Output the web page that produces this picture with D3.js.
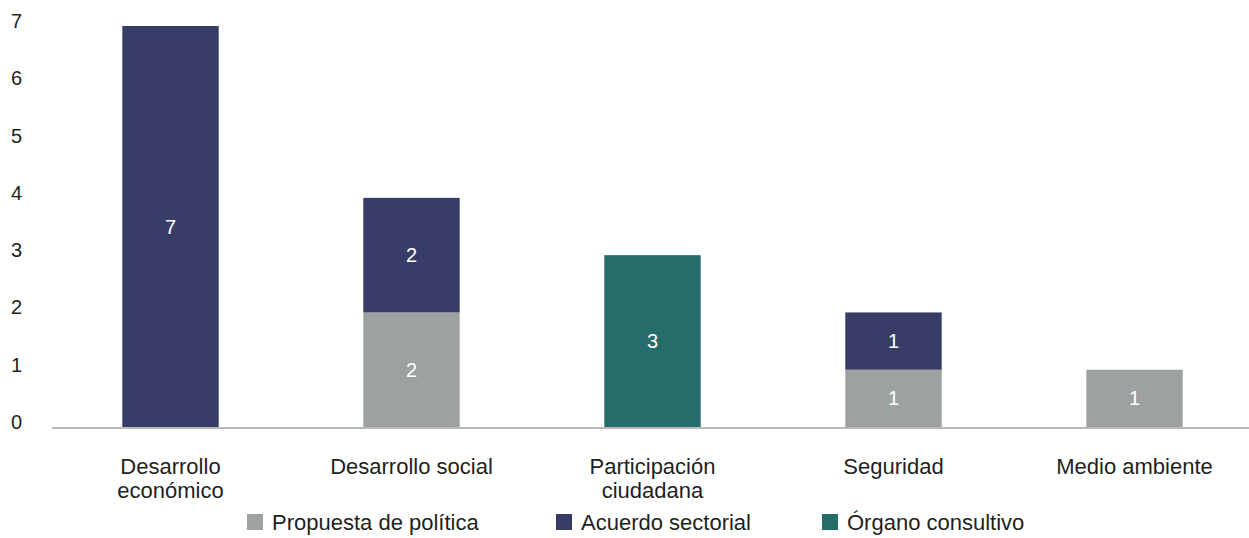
<!DOCTYPE html>
<html><head><meta charset="utf-8">
<script src="https://cdn.jsdelivr.net/npm/d3@7"></script>
<style>body{margin:0;background:#fff}svg{display:block}</style>
</head><body>
<svg id="c" width="1249" height="538"></svg>
<script>
const categories = [["Desarrollo","económico"],["Desarrollo social"],["Participación","ciudadana"],["Seguridad"],["Medio ambiente"]];
const seriesNames = ["Propuesta de política","Acuerdo sectorial","Órgano consultivo"];
const propuesta = [0,2,0,1,1];
const acuerdo = [7,2,0,1,0];
const organo = [0,0,3,0,0];
const yTicks = [0,1,2,3,4,5,6,7];
const colors = ["#9da2a1","#383d68","#256c6a"];

const svg = d3.select("#c");
const font = "'Liberation Sans', Arial, sans-serif";
const keys = categories.map(c=>c.join(" "));
const x = d3.scaleBand().domain(keys).range([50,1255]).paddingInner(0.6).paddingOuter(0.3);
const y = d3.scaleLinear().domain([0,7]).range([427,26]);

const rows = keys.map((k,i)=>({key:k, p:propuesta[i], a:acuerdo[i], o:organo[i]}));
const stack = d3.stack().keys(["p","a","o"])(rows);

stack.forEach((s,si)=>{
  const g = svg.append("g");
  s.forEach(d=>{
    const v = d[1]-d[0];
    if(v<=0) return;
    g.append("rect").attr("x",x(d.data.key)).attr("width",x.bandwidth())
      .attr("y",y(d[1])).attr("height",y(d[0])-y(d[1])).attr("fill",colors[si]);
    g.append("text").attr("x",x(d.data.key)+x.bandwidth()/2).attr("y",(y(d[0])+y(d[1]))/2)
      .attr("dy","0.35em").attr("text-anchor","middle").attr("fill","#fff")
      .style("font-family",font).style("font-size","20px").text(v);
  });
});

// baseline
svg.append("line").attr("x1",52).attr("x2",1249).attr("y1",y(0)+1).attr("y2",y(0)+1)
  .attr("stroke","#b9b9b9").attr("stroke-width",2);

// y tick labels
svg.append("g").selectAll("text").data(yTicks).join("text")
  .attr("x",11).attr("y",d=>y(d)-5).attr("dy","0.35em")
  .attr("fill","#231f20").style("font-family",font).style("font-size","20px").text(d=>d);

// category labels
categories.forEach((c,i)=>{
  const t = svg.append("text").attr("text-anchor","middle")
    .attr("fill","#231f20").style("font-family",font).style("font-size","22px");
  c.forEach((line,j)=>{
    t.append("tspan").attr("x",x(keys[i])+x.bandwidth()/2).attr("y",474+j*24).text(line);
  });
});

// legend
const legX = [247,556,822];
seriesNames.forEach((n,i)=>{
  svg.append("rect").attr("x",legX[i]).attr("y",514).attr("width",16).attr("height",16).attr("fill",colors[i]);
  svg.append("text").attr("x",legX[i]+25).attr("y",522).attr("dy","0.35em")
    .attr("fill","#231f20").style("font-family",font).style("font-size","22px").text(n);
});
</script>
</body></html>
